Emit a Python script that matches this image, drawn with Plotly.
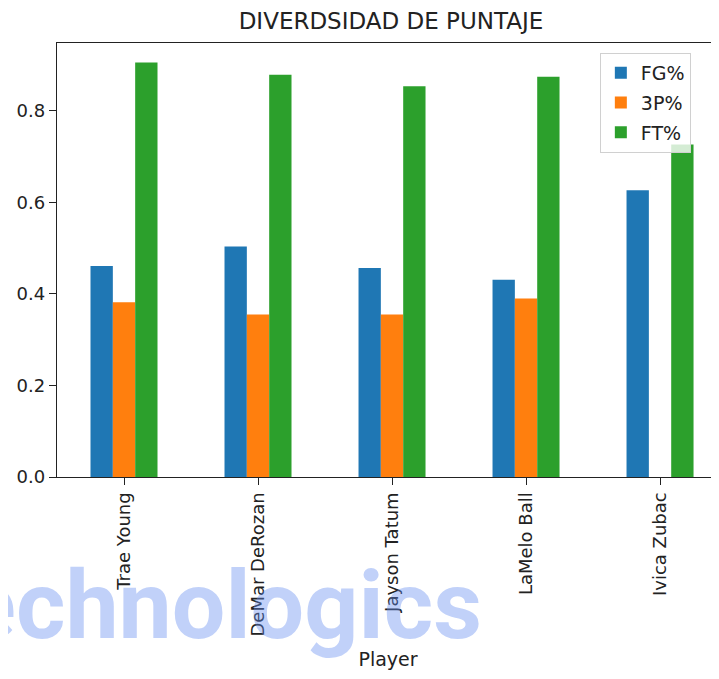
import plotly.graph_objects as go

players = ["Trae Young", "DeMar DeRozan", "Jayson Tatum", "LaMelo Ball", "Ivica Zubac"]
fg_pct = [0.461, 0.504, 0.457, 0.431, 0.627]
three_pct = [0.382, 0.355, 0.355, 0.390, None]
ft_pct = [0.906, 0.879, 0.854, 0.875, 0.727]

series = [("FG%", fg_pct, "#1f77b4"), ("3P%", three_pct, "#ff7f0e"), ("FT%", ft_pct, "#2ca02c")]

# The page body has an 8px margin, so the figure is 711x671 and sits at (8, 8).
W, H = 711, 671

fig = go.Figure()
for name, vals, col in series:
    fig.add_trace(go.Bar(x=list(range(len(players))), y=vals, name=name, legendgroup=name,
                         marker=dict(color=col, line=dict(width=0))))

font_family = "DejaVu Sans"
fig.update_layout(
    width=W, height=H,
    margin=dict(l=49, r=0, t=35, b=202, autoexpand=False),
    paper_bgcolor="white", plot_bgcolor="white",
    barmode="group", bargap=0.5, bargroupgap=0,
    font=dict(family=font_family, size=18, color="#222"),
    title=dict(text="DIVERDSIDAD DE PUNTAJE", x=383 / W, xanchor="center",
               y=1 - 13 / H, yanchor="middle", yref="container",
               font=dict(size=23, color="#222")),
    legend=dict(x=0.82, y=0.977, xanchor="left", yanchor="top",
                bgcolor="rgba(255,255,255,0.8)", bordercolor="#d0d0d0", borderwidth=1,
                tracegroupgap=2, font=dict(size=19, color="#222")),
    showlegend=True,
)
fig.update_xaxes(
    range=[-0.5, 4.44], tickmode="array", tickvals=list(range(len(players))), ticktext=players,
    tickangle=-90, ticks="outside", ticklen=7, tickcolor="#222", tickwidth=1.2,
    showline=True, linecolor="#222", linewidth=1.3, mirror=True, showgrid=False, zeroline=False,
    automargin=False,
    title=dict(text="Player", standoff=17, font=dict(size=19)),
)
fig.update_yaxes(
    range=[0, 0.9486], tickvals=[0, 0.2, 0.4, 0.6, 0.8], tickformat=".1f",
    ticks="outside", ticklen=7, tickcolor="#222", tickwidth=1.2,
    showline=True, linecolor="#222", linewidth=1.3, showgrid=False, zeroline=False,
    automargin=False,
)
fig.add_annotation(text="<b>Technologics</b>", xref="paper", yref="paper",
                   x=0.645, y=-0.297, xanchor="right", yanchor="middle",
                   showarrow=False,
                   font=dict(family="Roboto", size=95, color="rgba(100,140,240,0.4)"))
fig.write_html("out.html")
